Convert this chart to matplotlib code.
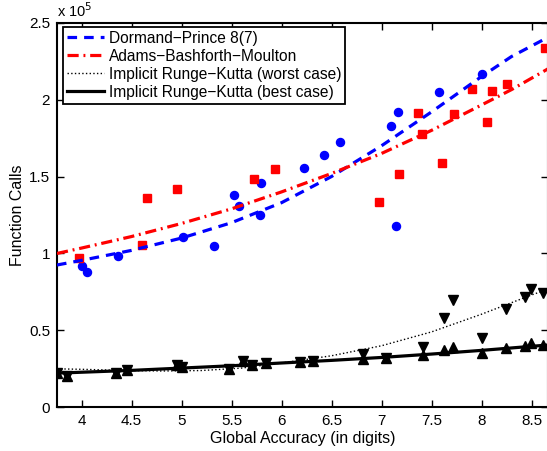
#importing libraries
import numpy as np
import matplotlib
matplotlib.use("Agg")
import matplotlib.pyplot as plt
from matplotlib.ticker import FuncFormatter

plt.rcParams['font.family'] = ['Liberation Sans', 'DejaVu Sans']

# Dormand-Prince 8(7) runs (accuracy in digits, function calls)
dp_acc = [4.002, 4.052, 4.362, 5.018, 5.32, 5.528, 5.578, 5.788, 5.795, 6.227,
          6.428, 6.585, 7.092, 7.148, 7.168, 7.572, 8.008]
dp_calls = [91800, 87700, 98600, 110500, 104900, 138100, 131000, 125100, 145700, 155300,
            163900, 172600, 182600, 117800, 192100, 205100, 216400]

# Adams-Bashforth-Moulton runs
abm_acc = [3.978, 4.608, 4.658, 4.958, 5.722, 5.935, 6.975, 7.175, 7.368, 7.405,
           7.608, 7.728, 7.902, 8.058, 8.102, 8.252, 8.635]
abm_calls = [97200, 105500, 135800, 141800, 148100, 154600, 133200, 151800, 191000, 177400,
             158500, 190600, 206600, 185200, 205500, 210300, 233700]

# Implicit Runge-Kutta, worst and best case
irk_acc = [3.755, 3.852, 4.35, 4.45, 4.952, 5.002, 5.478, 5.618, 5.705, 5.845,
           6.18, 6.312, 6.815, 7.042, 7.418, 7.627, 7.718, 8.002, 8.247, 8.435, 8.49, 8.613]
irk_worst = [22300, 20300, 22600, 24200, 27500, 26500, 25100, 30300, 27700, 28600,
             29600, 30400, 34400, 31800, 39400, 57800, 69700, 44800, 63700, 71500, 77000, 74100]
irk_best = [22300, 20300, 22600, 24200, 27500, 26500, 25100, 30300, 27700, 28600,
            29600, 30400, 31700, 31800, 34300, 37000, 39200, 35400, 38300, 39600, 41800, 40300]

# fitted trend curves
dp_fit_x = [3.755, 4.0, 4.5, 5.0, 5.5, 6.0, 6.5, 7.0, 7.5, 8.0, 8.3, 8.665]
dp_fit_y = [92500, 95500, 102000, 110000, 120000, 133000, 150000, 170000, 192000, 215000, 228000, 240500]
abm_fit_x = [3.755, 4.0, 4.5, 5.0, 5.5, 6.0, 6.5, 7.0, 7.5, 8.0, 8.3, 8.665]
abm_fit_y = [100000, 103500, 111000, 119500, 129000, 140000, 152000, 165000, 180000, 196500, 206500, 220000]
worst_fit_x = [3.755, 4.0, 4.4, 4.8, 5.2, 5.6, 6.0, 6.5, 7.0, 7.5, 8.0, 8.5, 8.665]
worst_fit_y = [25000, 24700, 24000, 23600, 23900, 25500, 28800, 33500, 40000, 49000, 60500, 73000, 76800]
best_fit_x = [3.755, 4.5, 5.0, 5.5, 6.0, 6.5, 7.0, 7.5, 8.0, 8.665]
best_fit_y = [22200, 24000, 25500, 27000, 28800, 30500, 32400, 34600, 37000, 40500]

fig = plt.figure(figsize=(5.47, 4.51), dpi=100)
ax = fig.add_axes([57 / 547, 1 - 407.3 / 451, (548 - 57) / 547, (407.3 - 22.7) / 451])

# data points
ax.plot(dp_acc, dp_calls, 'o', color='blue', markersize=5.8, zorder=3)
ax.plot(abm_acc, abm_calls, 's', color='red', markersize=5.8, zorder=3)
ax.plot(irk_acc, irk_worst, 'v', color='black', markersize=7.3, zorder=3)
ax.plot(irk_acc, irk_best, '^', color='black', markersize=7.3, zorder=3)

# fit lines
ax.plot(dp_fit_x, dp_fit_y, '--', color='blue', linewidth=2.3, dashes=(3, 2.2),
        label='Dormand\u2212Prince 8(7)', zorder=4)
ax.plot(abm_fit_x, abm_fit_y, '-.', color='red', linewidth=2.3, dashes=(3.5, 1.5, 0.6, 1.5),
        label='Adams\u2212Bashforth\u2212Moulton', zorder=4)
ax.plot(worst_fit_x, worst_fit_y, ':', color='black', linewidth=1.0,
        label='Implicit Runge\u2212Kutta (worst case)', zorder=4)
ax.plot(best_fit_x, best_fit_y, '-', color='black', linewidth=2.3,
        label='Implicit Runge\u2212Kutta (best case)', zorder=4)

ax.set_xlim(3.755, 8.665)
ax.set_ylim(0, 2.5e5)
ax.set_xticks(np.arange(4, 8.6, 0.5))
ax.set_yticks(np.arange(0, 2.51e5, 0.5e5))
ax.xaxis.set_major_formatter(FuncFormatter(lambda v, _: f'{v:g}'))
ax.yaxis.set_major_formatter(FuncFormatter(lambda v, _: f'{v / 1e5:g}'))
ax.tick_params(direction='in', length=5, width=1, top=True, right=True, labelsize=11, pad=5)
for sp in ax.spines.values():
    sp.set_linewidth(1.5)

ax.text(0, 1.008, r'x 10$^5$', transform=ax.transAxes, fontsize=10.5, ha='left', va='bottom')
ax.set_xlabel('Global Accuracy (in digits)', fontsize=11.5, labelpad=2)
ax.set_ylabel('Function Calls', fontsize=11.5, labelpad=3)

leg = ax.legend(loc='upper left', bbox_to_anchor=(0.0116, 0.9896), borderaxespad=0,
                fontsize=11.2, handlelength=2.4, handletextpad=0.3, labelspacing=0.2,
                borderpad=0.25, fancybox=False, framealpha=1, edgecolor='black')
leg.get_frame().set_linewidth(1.3)

fig.savefig('out.png', dpi=100)
